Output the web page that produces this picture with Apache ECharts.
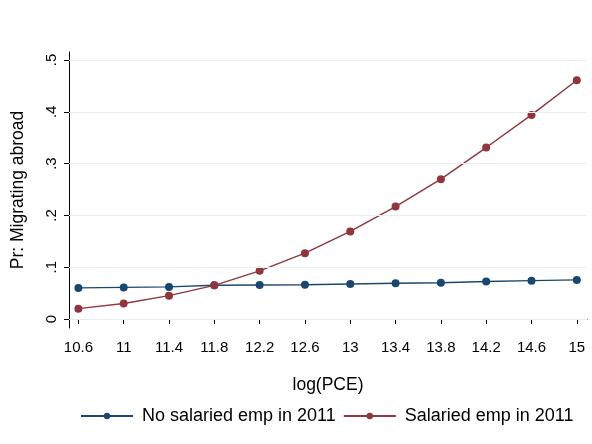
<!DOCTYPE html>
<html>
<head>
<meta charset="utf-8">
<script src="https://cdn.jsdelivr.net/npm/echarts@6/dist/echarts.min.js"></script>
<style>
  html, body { margin: 0; padding: 0; background: #fff; }
  #chart { width: 592px; height: 444px; }
</style>
</head>
<body>
<div id="chart"></div>
<script>
// log(PCE) points
const logPCE = [10.6, 11, 11.4, 11.8, 12.2, 12.6, 13, 13.4, 13.8, 14.2, 14.6, 15]
const noSalaried = [0.060, 0.061, 0.062, 0.065, 0.0655, 0.066, 0.0675, 0.069, 0.070, 0.0725, 0.074, 0.0755]
const salaried = [0.020, 0.030, 0.045, 0.065, 0.093, 0.127, 0.169, 0.217, 0.270, 0.331, 0.394, 0.461]
const xTicks = [10.6, 11, 11.4, 11.8, 12.2, 12.6, 13, 13.4, 13.8, 14.2, 14.6, 15]
const yTicks = [0, 0.1, 0.2, 0.3, 0.4, 0.5]

const pairs = (xs, ys) => xs.map((x, i) => [x, ys[i]])
const fmtY = v => v === 0 ? '0' : String(v).replace(/^0/, '')

const chart = echarts.init(document.getElementById('chart'))
const font = 'Liberation Sans, Arial, sans-serif'

chart.setOption({
  animation: false,
  textStyle: { fontFamily: font },
  grid: { left: 69, right: 5, top: 52, bottom: 116 },
  legend: {
    top: 402,
    left: 75,
    itemWidth: 52,
    itemHeight: 8,
    itemGap: 7,
    textStyle: { fontSize: 18, color: '#000', fontFamily: font, padding: [0, 0, 0, 4] },
    data: ['No salaried emp in 2011', 'Salaried emp in 2011']
  },
  xAxis: {
    type: 'value',
    min: 10.517,
    max: 15.09,
    name: 'log(PCE)',
    nameLocation: 'middle',
    nameGap: 48,
    nameTextStyle: { fontSize: 17.5, color: '#000' },
    axisLine: { show: true, lineStyle: { color: '#000', width: 1 } },
    axisTick: { show: true, length: 5, customValues: xTicks, lineStyle: { color: '#000' } },
    axisLabel: {
      customValues: xTicks,
      fontSize: 15,
      color: '#000',
      margin: 12,
      formatter: v => String(Math.round(v * 10) / 10)
    },
    splitLine: { show: false }
  },
  yAxis: {
    type: 'value',
    min: -0.0174,
    max: 0.5155,
    name: 'Pr: Migrating abroad',
    nameLocation: 'middle',
    nameGap: 42,
    nameTextStyle: { fontSize: 17.5, color: '#000' },
    axisLine: { show: true, lineStyle: { color: '#000', width: 1 } },
    axisTick: { show: true, length: 5, customValues: yTicks, lineStyle: { color: '#000' } },
    axisLabel: {
      customValues: yTicks,
      rotate: 90,
      fontSize: 15,
      color: '#000',
      margin: 10,
      formatter: v => fmtY(Math.round(v * 10) / 10)
    },
    splitLine: { show: false }
  },
  series: [
    {
      name: 'gridlines',
      type: 'line',
      data: [],
      markLine: {
        silent: true,
        symbol: 'none',
        label: { show: false },
        lineStyle: { color: '#e6eef1', type: 'solid', width: 1 },
        data: yTicks.map(v => ({ yAxis: v }))
      }
    },
    {
      name: 'No salaried emp in 2011',
      type: 'line',
      data: pairs(logPCE, noSalaried),
      symbol: 'circle',
      symbolSize: 8,
      color: '#1a476f',
      lineStyle: { width: 1.4, color: '#1a476f' },
      itemStyle: { color: '#1a476f' },
      z: 3
    },
    {
      name: 'Salaried emp in 2011',
      type: 'line',
      data: pairs(logPCE, salaried),
      symbol: 'circle',
      symbolSize: 8,
      color: '#90353b',
      lineStyle: { width: 1.4, color: '#90353b' },
      itemStyle: { color: '#90353b' },
      z: 4
    }
  ]
})
</script>
</body>
</html>
